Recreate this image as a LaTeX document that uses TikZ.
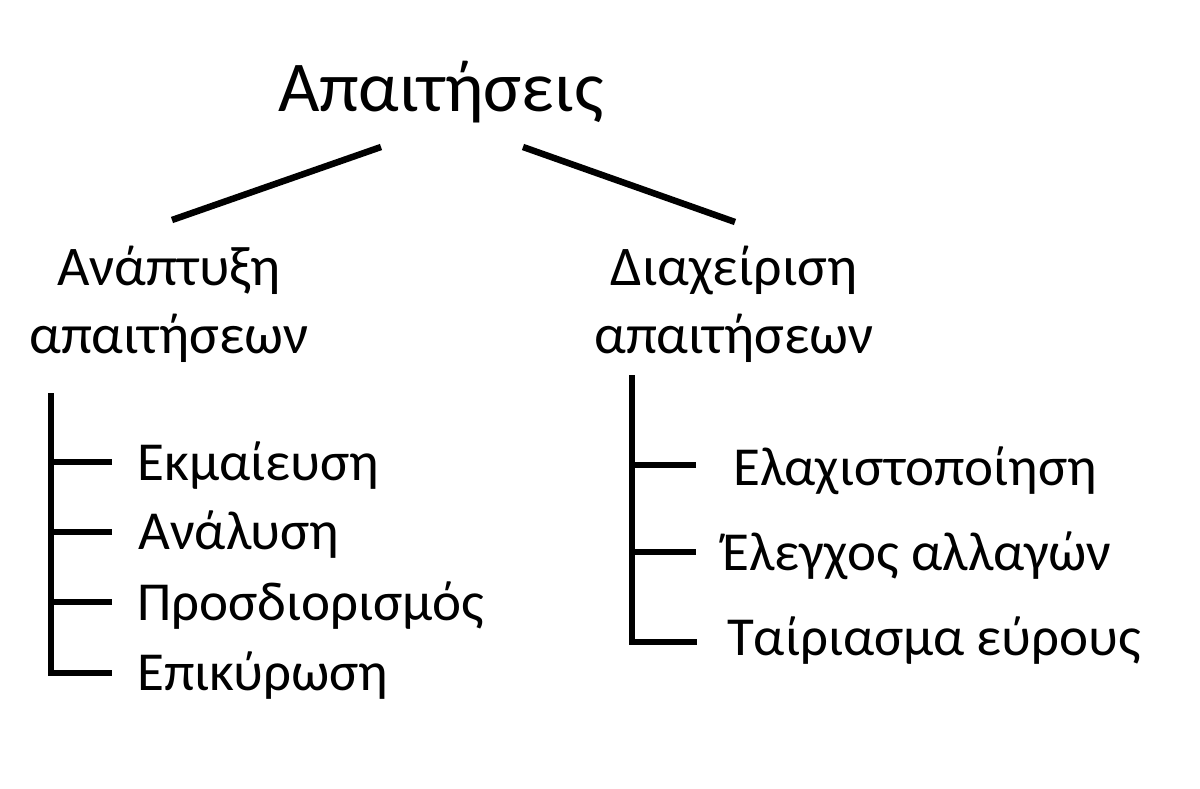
\documentclass[tikz,border=0pt]{standalone}
\usepackage{fontspec}
\setmainfont{Carlito}
\usepackage{tikz}

\tikzset{
    bar/.style={line width=6.5pt},
    title/.style={font=\fontsize{71.5}{86}\selectfont, inner sep=0pt},
    branch/.style={font=\fontsize{56}{68}\selectfont, align=center, inner sep=0pt},
    item/.style={font=\fontsize{55}{66}\selectfont, inner sep=0pt, anchor=base west}
}

\begin{document}
\begin{tikzpicture}[x=1pt, y=-1pt]
        \useasboundingbox (0,0) rectangle (1200,789);

        \node[title, anchor=base] (req) at (441,112) {Απαιτήσεις};

        % base anchor sits on the second line
        \node[branch, anchor=base] (dev) at (169,353) {Ανάπτυξη\\απαιτήσεων};
        \node[branch, anchor=base] (man) at (734,353) {Διαχείριση\\απαιτήσεων};

        \coordinate (reqL) at (381,147);
        \coordinate (reqR) at (523,147);
        \coordinate (devT) at (172,220);
        \coordinate (manT) at (735,222);

        \draw[bar] (reqL) -- (devT);
        \draw[bar] (reqR) -- (manT);

        % left branch
        \node[item] (d1) at (137,480) {Εκμαίευση};
        \node[item] (d2) at (138,549) {Ανάλυση};
        \node[item] (d3) at (137,620) {Προσδιορισμός};
        \node[item] (d4) at (137,690) {Επικύρωση};

        \coordinate (dtop) at (51,393);
        \coordinate (t1) at (112,462);
        \coordinate (t2) at (112,532);
        \coordinate (t3) at (112,602);
        \coordinate (t4) at (112,673);

        \draw[bar] (dtop) -- (dtop |- t4) -- (t4);
        \draw[bar] (dtop |- t1) -- (t1);
        \draw[bar] (dtop |- t2) -- (t2);
        \draw[bar] (dtop |- t3) -- (t3);

        % right branch
        \node[item] (m1) at (733,485) {Ελαχιστοποίηση};
        \node[item] (m2) at (722,570) {Έλεγχος αλλαγών};
        \node[item] (m3) at (727,655) {Ταίριασμα εύρους};

        \coordinate (mtop) at (632,375);
        \coordinate (s1) at (696,465);
        \coordinate (s2) at (696,552);
        \coordinate (s3) at (697,642);

        \draw[bar] (mtop) -- (mtop |- s3) -- (s3);
        \draw[bar] (mtop |- s1) -- (s1);
        \draw[bar] (mtop |- s2) -- (s2);
\end{tikzpicture}
\end{document}
